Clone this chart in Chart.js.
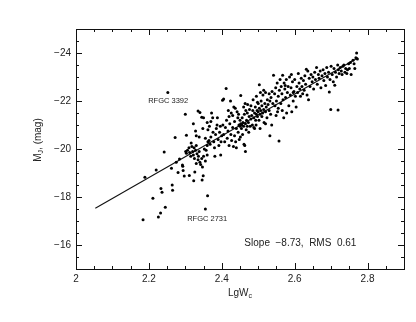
<!DOCTYPE html>
<html>
<head>
<meta charset="utf-8">
<script src="https://cdn.jsdelivr.net/npm/chart.js@4.4.1/dist/chart.umd.min.js"></script>
<style>
  html, body { margin: 0; padding: 0; background: #fff; }
</style>
</head>
<body>
<canvas id="tfChart" width="416" height="322"></canvas>
<script>
// log of corrected HI line width (x) and absolute J magnitude (y), one entry per galaxy
const lgW = [
  2.184, 2.189, 2.211, 2.220, 2.226, 2.232, 2.233, 2.236, 2.242, 2.245,
  2.252, 2.264, 2.265, 2.262, 2.272, 2.275, 2.280, 2.284, 2.292, 2.293,
  2.294, 2.297, 2.300, 2.303, 2.301, 2.303, 2.306,
  2.335, 2.340, 2.345, 2.350, 2.322, 2.328, 2.330, 2.338, 2.348, 2.355,
  2.360, 2.362,
  2.310, 2.312, 2.315, 2.318, 2.320, 2.322, 2.325, 2.328, 2.330, 2.332,
  2.335, 2.336, 2.338, 2.340, 2.342, 2.345, 2.347, 2.350, 2.352, 2.355,
  2.357, 2.360, 2.316, 2.324, 2.330,
  2.311, 2.323, 2.326, 2.346, 2.349, 2.361, 2.355,
  2.365, 2.368, 2.370, 2.372, 2.375, 2.378, 2.380, 2.381, 2.383, 2.385,
  2.387, 2.388, 2.390, 2.392, 2.394, 2.396, 2.397, 2.398, 2.400, 2.402,
  2.405, 2.403, 2.366, 2.370, 2.376, 2.360, 2.362,
  2.405, 2.408, 2.410, 2.412, 2.413, 2.415, 2.417, 2.420, 2.420, 2.422,
  2.424, 2.425, 2.427, 2.430, 2.430, 2.432, 2.435, 2.435, 2.437, 2.440,
  2.440, 2.442, 2.444, 2.445, 2.447, 2.448, 2.450, 2.450, 2.452, 2.452,
  2.454, 2.455, 2.456, 2.457, 2.458, 2.460, 2.460, 2.461, 2.462, 2.463,
  2.464, 2.465, 2.465, 2.466, 2.467, 2.468, 2.470, 2.470, 2.471, 2.473,
  2.474, 2.475, 2.476, 2.478, 2.480, 2.480, 2.418, 2.426, 2.433, 2.438,
  2.446, 2.451,
  2.482, 2.484, 2.485, 2.486, 2.488, 2.490, 2.490, 2.492, 2.493, 2.495,
  2.495, 2.497, 2.498, 2.500, 2.500, 2.503, 2.502, 2.503, 2.505, 2.505,
  2.507, 2.508, 2.510, 2.510, 2.512, 2.513, 2.515, 2.516, 2.518, 2.520,
  2.520, 2.522, 2.524, 2.525, 2.527, 2.532, 2.530, 2.530, 2.532, 2.534,
  2.535, 2.537, 2.538, 2.540, 2.488, 2.494, 2.520, 2.515, 2.498, 2.506,
  2.542, 2.545, 2.546, 2.548, 2.550, 2.552, 2.553, 2.555, 2.557, 2.558,
  2.560, 2.562, 2.563, 2.565, 2.567, 2.568, 2.570, 2.571, 2.573, 2.575,
  2.577, 2.578, 2.580, 2.582, 2.584, 2.586, 2.588, 2.590, 2.591, 2.592,
  2.594, 2.596, 2.598, 2.600, 2.602, 2.604, 2.606, 2.608, 2.610, 2.612,
  2.614, 2.616, 2.618, 2.620, 2.622, 2.549, 2.555, 2.566, 2.574, 2.596,
  2.624, 2.626, 2.628, 2.630, 2.632, 2.634, 2.636, 2.638, 2.640, 2.642,
  2.645, 2.648, 2.650, 2.652, 2.655, 2.657, 2.660, 2.662, 2.665, 2.667,
  2.670, 2.672, 2.675, 2.678, 2.680, 2.683, 2.685, 2.688, 2.690, 2.693,
  2.695, 2.697, 2.699, 2.700, 2.703, 2.706, 2.708, 2.710, 2.712, 2.715,
  2.718, 2.719, 2.720, 2.722, 2.725, 2.728, 2.730, 2.732, 2.735, 2.738,
  2.740, 2.743, 2.745, 2.748, 2.750, 2.753, 2.755, 2.760, 2.763, 2.765,
  2.768, 2.770, 2.772
];
const magJ = [
  -17.05, -18.82, -17.95, -19.12, -17.17, -17.33, -18.35, -18.20, -19.88, -17.57,
  -22.35, -18.50, -18.28, -19.20, -20.48, -19.45, -19.02, -19.58, -19.33, -19.28,
  -19.10, -18.88, -21.45, -20.57, -19.90, -19.82, -19.95,
  -21.58, -21.52, -21.32, -21.30, -21.05, -20.75, -20.55, -20.50, -20.85, -20.45,
  -21.10, -20.80,
  -20.05, -19.85, -19.70, -20.10, -19.90, -19.75, -19.60, -19.95, -20.15, -19.80,
  -19.55, -19.70, -19.90, -19.45, -19.35, -19.60, -19.25, -19.70, -20.00, -19.50,
  -19.95, -19.75, -20.25, -20.05, -19.40,
  -18.90, -18.68, -19.04, -18.71, -18.89, -18.05, -17.50,
  -20.35, -20.20, -20.50, -21.50, -21.30, -20.30, -20.05, -19.70, -20.60, -20.85,
  -21.00, -21.30, -20.40, -20.15, -20.70, -20.95, -19.75, -20.30, -20.55, -22.03,
  -22.08, -21.00, -20.95, -21.15, -20.70, -20.15, -20.30,
  -20.60, -20.30, -20.90, -22.52, -21.20, -20.45, -20.75, -21.35, -20.15, -21.05,
  -22.00, -20.60, -20.35, -21.40, -20.90, -20.10, -21.15, -20.55, -21.70, -20.85,
  -20.05, -21.55, -21.30, -20.70, -21.00, -20.40, -21.20, -20.95, -22.23, -21.05,
  -20.85, -21.00, -21.30, -20.60, -21.10, -20.95, -21.75, -20.20, -21.45, -20.15,
  -21.90, -19.90, -21.05, -21.60, -20.80, -21.20, -20.95, -21.50, -21.85, -21.10,
  -20.70, -21.35, -21.65, -20.95, -21.25, -21.80, -21.60, -21.50, -21.75, -20.30,
  -21.45, -20.50,
  -21.40, -21.00, -21.60, -22.05, -21.30, -21.50, -20.85, -21.75, -21.20, -21.45,
  -22.20, -21.60, -21.35, -21.55, -21.90, -22.68, -21.20, -21.70, -21.45, -20.85,
  -21.60, -22.00, -21.35, -21.80, -21.50, -22.25, -21.65, -21.10, -21.90, -21.55,
  -22.35, -21.75, -21.30, -22.05, -21.85, -20.55, -22.30, -21.60, -22.00, -21.45,
  -22.15, -21.00, -22.40, -21.90, -20.90, -21.00, -21.05, -22.45, -21.95, -22.35,
  -23.07, -22.30, -21.80, -22.55, -22.00, -22.75, -21.55, -22.20, -20.33, -22.45,
  -22.90, -21.90, -22.60, -22.30, -23.07, -22.05, -21.30, -22.75, -22.50, -22.15,
  -22.90, -21.50, -22.35, -22.60, -21.80, -23.00, -22.25, -22.55, -23.10, -21.55,
  -22.80, -22.00, -22.40, -22.90, -22.20, -21.75, -22.60, -22.35, -23.15, -22.75,
  -22.50, -22.20, -22.95, -22.60, -22.30, -21.40, -21.70, -21.60, -22.65, -22.35,
  -22.85, -22.45, -23.05, -22.70, -23.32, -22.25, -23.25, -22.05, -22.95, -22.60,
  -23.10, -22.80, -23.00, -22.50, -23.20, -22.90, -23.40, -22.70, -23.10, -22.95,
  -23.25, -22.55, -23.05, -23.30, -22.85, -23.15, -22.65, -23.40, -23.00, -23.20,
  -22.37, -22.90, -21.65, -23.45, -23.10, -22.80, -23.35, -22.66, -23.20, -23.00,
  -23.50, -21.62, -23.30, -23.15, -23.40, -23.25, -23.10, -23.45, -23.50, -23.20,
  -23.35, -23.15, -23.30, -23.55, -23.35, -23.60, -23.10, -23.70, -23.55, -23.35,
  -23.80, -24.00, -23.75
];

// fitted relation, end points
const fitX = [2.053, 2.774];
const fitY = [-17.53, -23.80];

const xTicks = [2, 2.2, 2.4, 2.6, 2.8];
const yTicks = [-16, -18, -20, -22, -24];

const FONT = '"Liberation Sans", Arial, sans-serif';

// axes frame, inward ticks on all four sides, titles and notes
const framePlugin = {
  id: 'frame',
  afterDraw(chart, args, opts) {
    const { ctx, chartArea: a, scales: { x, y } } = chart;
    ctx.save();
    ctx.strokeStyle = '#111';
    ctx.lineWidth = 1;
    ctx.strokeRect(a.left + 0.5, a.top + 0.5, a.right - a.left, a.bottom - a.top);

    ctx.beginPath();
    for (let i = 0; i <= 18; i++) {
      const v = 2 + i * 0.05;
      const px = Math.round(x.getPixelForValue(v)) + 0.5;
      const len = xTicks.some(t => Math.abs(t - v) < 1e-6) ? 6 : 3;
      ctx.moveTo(px, a.bottom); ctx.lineTo(px, a.bottom - len);
      ctx.moveTo(px, a.top); ctx.lineTo(px, a.top + len);
    }
    for (let i = 0; i <= 20; i++) {
      const v = -25 + i * 0.5;
      const py = Math.round(y.getPixelForValue(v)) + 0.5;
      const len = yTicks.some(t => Math.abs(t - v) < 1e-6) ? 6 : 3;
      ctx.moveTo(a.left, py); ctx.lineTo(a.left + len, py);
      ctx.moveTo(a.right, py); ctx.lineTo(a.right - len, py);
    }
    ctx.stroke();

    ctx.fillStyle = '#222';
    ctx.textBaseline = 'middle';
    ctx.textAlign = 'left';

    // x title: LgW with subscript c
    ctx.font = '7px ' + FONT;
    const sw = ctx.measureText('c').width;
    ctx.font = '10px ' + FONT;
    const lw = ctx.measureText('LgW').width;
    const x0 = (a.left + a.right) / 2 - (lw + sw) / 2;
    ctx.fillText('LgW', x0, opts.xTitleY);
    ctx.font = '7px ' + FONT;
    ctx.fillText('c', x0 + lw, opts.xTitleY + 3);

    // y title: M_J, (mag), rotated
    ctx.save();
    ctx.translate(opts.yTitleX, (a.top + a.bottom) / 2 - 9);
    ctx.rotate(-Math.PI / 2);
    ctx.font = '10px ' + FONT;
    const wM = ctx.measureText('M').width;
    const rest = ', (mag)';
    const wR = ctx.measureText(rest).width;
    ctx.font = '7px ' + FONT;
    const wJ = ctx.measureText('J').width;
    const sx = -(wM + wJ + wR) / 2;
    ctx.font = '10px ' + FONT;
    ctx.fillText('M', sx, 0);
    ctx.font = '7px ' + FONT;
    ctx.fillText('J', sx + wM, 3);
    ctx.font = '10px ' + FONT;
    ctx.fillText(rest, sx + wM + wJ, 0);
    ctx.restore();

    // notes placed in data coordinates
    opts.notes.forEach(n => {
      ctx.font = n.size + 'px ' + FONT;
      ctx.textAlign = n.align;
      ctx.fillText(n.text, x.getPixelForValue(n.x), y.getPixelForValue(n.y));
    });
    ctx.restore();
  }
};

const points = lgW.map((v, i) => ({ x: v, y: magJ[i] }));
const fitLine = fitX.map((v, i) => ({ x: v, y: fitY[i] }));

new Chart(document.getElementById('tfChart'), {
  type: 'scatter',
  data: {
    datasets: [
      {
        label: 'galaxies',
        data: points,
        pointRadius: 1.5,
        pointBackgroundColor: '#000',
        pointBorderWidth: 0
      },
      {
        type: 'line',
        label: 'fit',
        data: fitLine,
        borderColor: '#111',
        borderWidth: 1.1,
        pointRadius: 0,
        fill: false
      }
    ]
  },
  options: {
    responsive: false,
    animation: false,
    layout: { padding: { top: 29, right: 12, left: 0, bottom: 0 } },
    plugins: {
      legend: { display: false },
      tooltip: { enabled: false },
      frame: {
        xTitleY: 293,
        yTitleX: 38,
        notes: [
          { text: 'RFGC 3392', x: 2.253, y: -22.01, size: 7.5, align: 'center' },
          { text: 'RFGC 2731', x: 2.360, y: -17.10, size: 7.5, align: 'center' },
          { text: 'Slope  \u22128.73,  RMS  0.61', x: 2.462, y: -16.08, size: 10, align: 'left' }
        ]
      }
    },
    scales: {
      x: {
        type: 'linear',
        min: 2,
        max: 2.9,
        grid: { display: false, drawTicks: false },
        border: { display: false },
        afterBuildTicks: s => { s.ticks = xTicks.map(v => ({ value: v })); },
        afterFit: s => { s.height = 53; },
        ticks: {
          padding: 4,
          color: '#222',
          font: { family: FONT, size: 10 },
          callback: v => String(v)
        }
      },
      y: {
        type: 'linear',
        min: -25,
        max: -15,
        reverse: true,
        grid: { display: false, drawTicks: false },
        border: { display: false },
        afterBuildTicks: s => { s.ticks = yTicks.map(v => ({ value: v })); },
        afterFit: s => { s.width = 76; },
        ticks: {
          padding: 5,
          color: '#222',
          font: { family: FONT, size: 10 },
          callback: v => String(v).replace('-', '\u2212')
        }
      }
    }
  },
  plugins: [framePlugin]
});
</script>
</body>
</html>
